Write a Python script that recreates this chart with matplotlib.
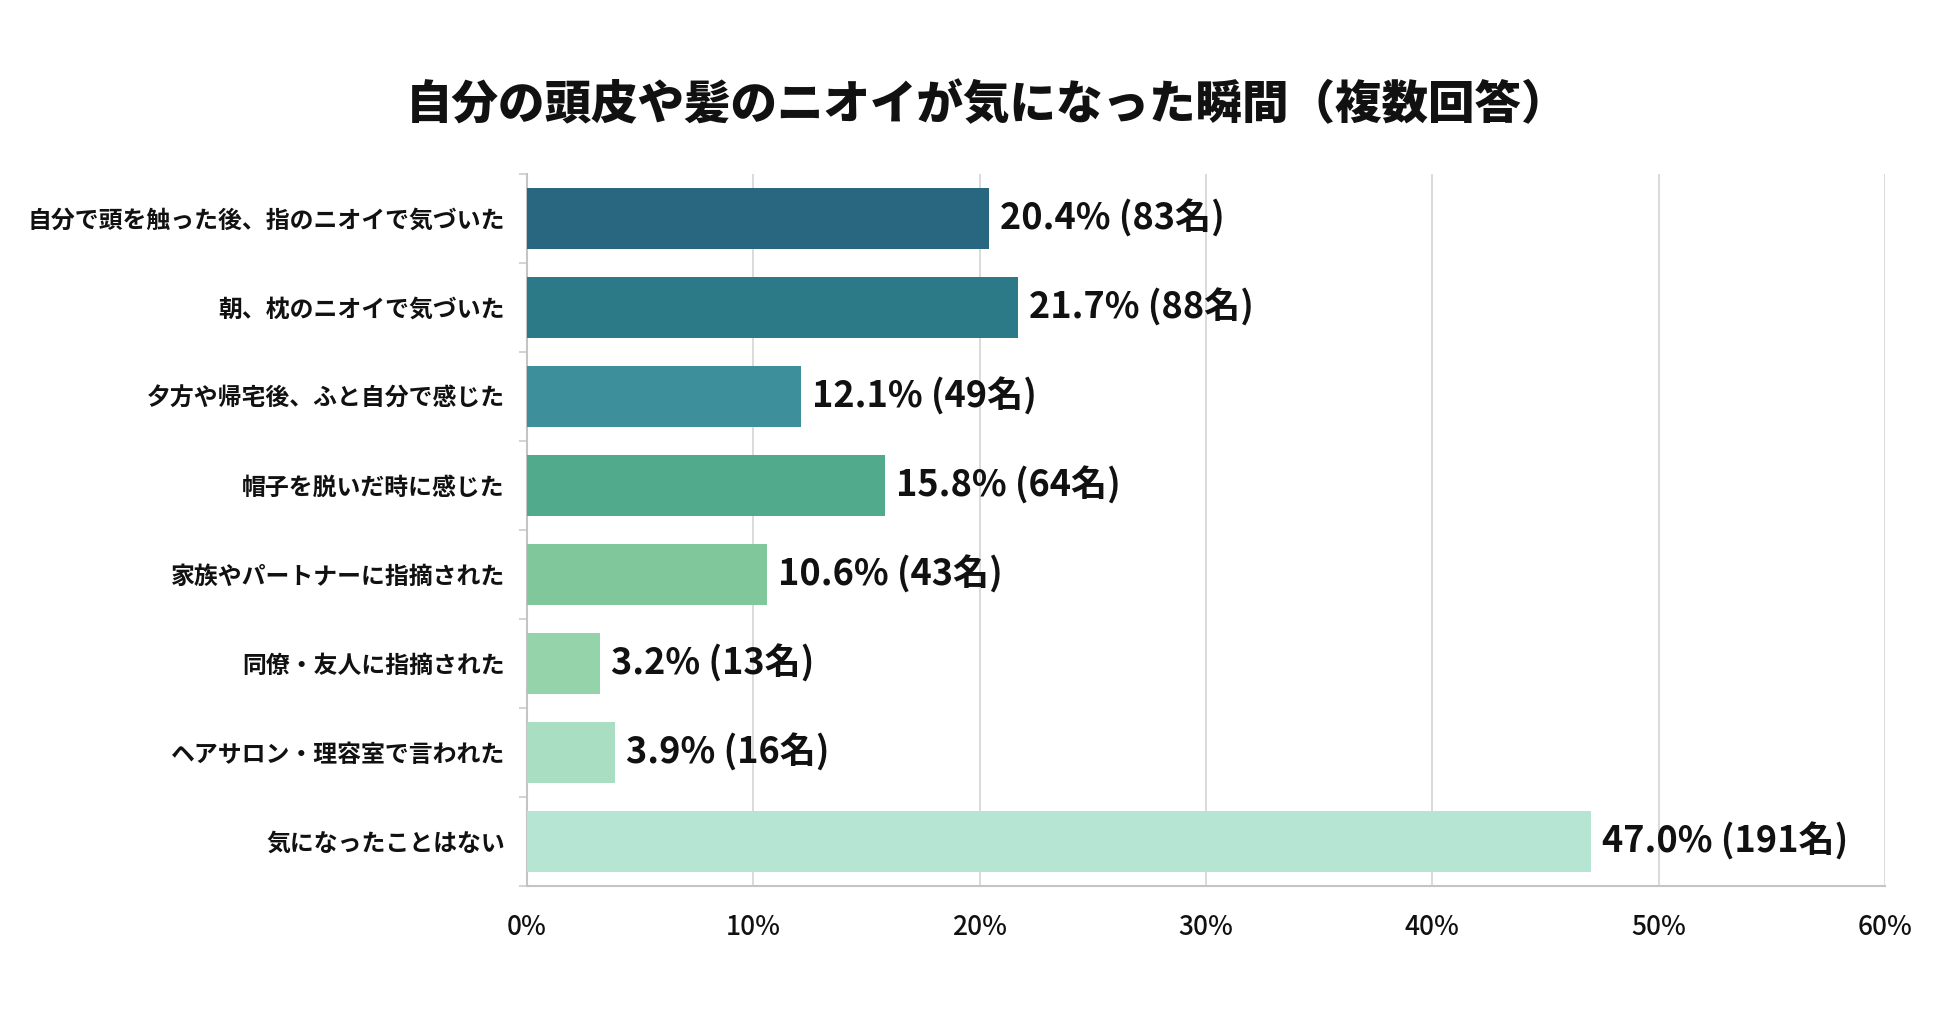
import matplotlib
matplotlib.use("Agg")
import matplotlib.pyplot as plt
import numpy as np

plt.rcParams['font.family'] = ['Noto Sans CJK JP', 'DejaVu Sans']

# datos de la encuesta
categorias = [
    "自分で頭を触った後、指のニオイで気づいた",
    "朝、枕のニオイで気づいた",
    "夕方や帰宅後、ふと自分で感じた",
    "帽子を脱いだ時に感じた",
    "家族やパートナーに指摘された",
    "同僚・友人に指摘された",
    "ヘアサロン・理容室で言われた",
    "気になったことはない",
]
porcentajes = [20.4, 21.7, 12.1, 15.8, 10.6, 3.2, 3.9, 47.0]
personas = [83, 88, 49, 64, 43, 13, 16, 191]
colores = ["#28677f", "#2c7a88", "#3c8f9b", "#50aa8b",
           "#80c89c", "#95d4ab", "#a9dec3", "#b6e6d3"]
ticks_x = [0, 10, 20, 30, 40, 50, 60]
titulo = "自分の頭皮や髪のニオイが気になった瞬間（複数回答）"

fig = plt.figure(figsize=(19.5, 10.19), dpi=100)
ax = fig.add_axes([0.2703, 0.1305, 0.6964, 0.6987])

y = np.arange(len(categorias))
ax.barh(y, porcentajes, height=0.68, color=colores, zorder=3)

# etiquetas al final de cada barra
for yi, p, n in zip(y, porcentajes, personas):
    ax.annotate(f"{p:.1f}% ({n}名)", xy=(p, yi), xytext=(8, 0),
                textcoords="offset points", va="center", ha="left",
                fontsize=26, fontweight="bold", color="#111111")

ax.set_xlim(0, 60)
ax.set_ylim(len(categorias) - 0.53, -0.45)
ax.set_xticks(ticks_x)
ax.set_xticklabels([f"{t}%" for t in ticks_x], fontsize=19,
                   fontweight="medium", color="#111111")
ax.set_yticks(y)
ax.set_yticklabels(categorias, fontsize=17.2, fontweight="bold", color="#111111")
ax.tick_params(axis="y", length=0, pad=16)
ax.tick_params(axis="x", length=0, pad=20)

# marcas chicas entre categorias
ax.set_yticks(np.arange(len(categorias) + 1) - 0.5, minor=True)
ax.tick_params(axis="y", which="minor", length=6, color="#cccccc", width=1.2)

ax.grid(axis="x", color="#d4d4d4", linewidth=1.2, zorder=0)
for lado in ["top", "right"]:
    ax.spines[lado].set_visible(False)
ax.spines["left"].set_color("#c4c4c4")
ax.spines["bottom"].set_color("#c4c4c4")
ax.spines["left"].set_linewidth(1.5)
ax.spines["bottom"].set_linewidth(1.5)

fig.text(0.506, 0.896, titulo, ha="center", va="center",
         fontsize=33.5, fontweight="heavy", color="#111111")

fig.savefig("out.png", dpi=100, facecolor="white")
